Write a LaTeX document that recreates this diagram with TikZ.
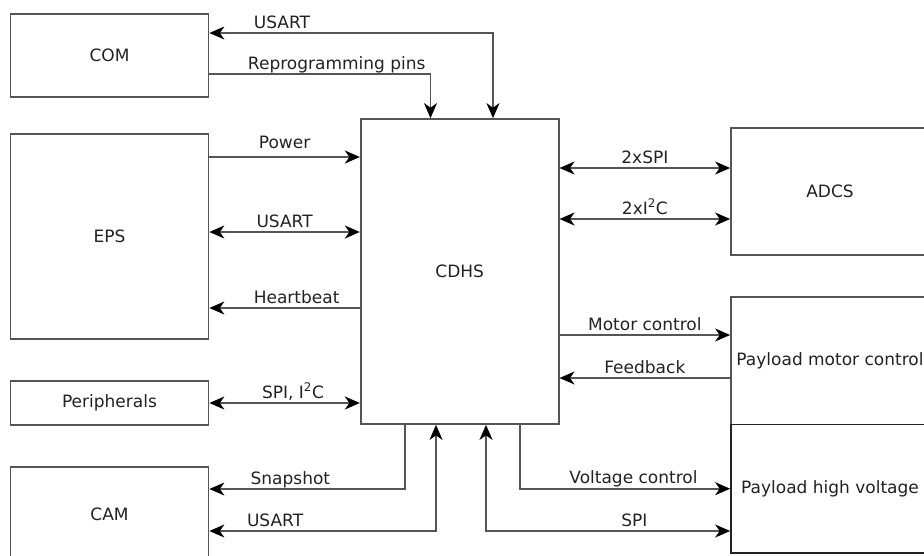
\documentclass[tikz,border=0pt]{standalone}
\usepackage{fontspec}
\setmainfont{DejaVu Sans}
\usetikzlibrary{arrows.meta,calc}
\definecolor{ink}{HTML}{222222}
\definecolor{gris}{HTML}{555555}
\tikzset{
  bloque/.style={draw=gris,line width=1.7pt,fill=white,text=ink,inner sep=0pt,minimum width=198pt,font=\fontsize{17pt}{20pt}\selectfont},
  flecha/.style={-{Stealth[length=15pt,width=13pt,inset=4.5pt,color=black]},line width=1.7pt,draw=gris},
  flechad/.style={{Stealth[length=15pt,width=13pt,inset=4.5pt,color=black]}-{Stealth[length=15pt,width=13pt,inset=4.5pt,color=black]},line width=1.7pt,draw=gris},
  etiqueta/.style={font=\fontsize{17pt}{20pt}\selectfont,text=ink,anchor=base,inner sep=0pt,yshift=5pt},
}
\begin{document}
\begin{tikzpicture}[x=1pt,y=-1pt]
  \clip (0,0) rectangle (924,555);
  % bloques
  \node[bloque,minimum height=83pt] (com) at (109.5,55.5) {COM};
  \node[bloque,minimum height=205pt] (eps) at (109.5,236.5) {EPS};
  \node[bloque,minimum height=44pt] (per) at (109.5,403) {Peripherals};
  \node[bloque,minimum height=94pt] (cam) at (109.5,514) {CAM};
  \node[bloque,minimum height=305pt] (cdhs) at (459.7,271.5) {CDHS};
  \node[bloque,minimum height=127pt] (adcs) at (830,191.5) {ADCS};
  \node[bloque,minimum height=127.5pt] (pmc) at (830,360.7) {Payload motor control};
  \node[bloque,minimum height=128.5pt,draw=ink] (phv) at (830,488.7) {Payload high voltage};
  % COM
  \draw[flechad] ([yshift=22.5pt]com.east) -| ([xshift=33.3pt]cdhs.north)
    node[etiqueta,pos=0.128] {USART};
  \draw[flecha] ([yshift=-18.5pt]com.east) -| ([xshift=-29.2pt]cdhs.north)
    node[etiqueta,pos=0.288] {Reprogramming pins};
  % EPS y perifericos
  \draw[flecha] ([yshift=79.5pt]eps.east) -- ([yshift=79.5pt]eps.east -| cdhs.west)
    node[etiqueta,midway,yshift=4pt] {Power};
  \draw[flechad] ([yshift=4.5pt]eps.east) -- ([yshift=4.5pt]eps.east -| cdhs.west)
    node[etiqueta,midway] {USART};
  \draw[flecha] ([yshift=-71.5pt]eps.east -| cdhs.west) -- ([yshift=-71.5pt]eps.east)
    node[etiqueta,pos=0.42] {Heartbeat};
  \draw[flechad] (per.east) -- (per.east -| cdhs.west)
    node[etiqueta,pos=0.556] {SPI, I\textsuperscript{2}C};
  % CAM
  \draw[flecha] ([xshift=-54.7pt]cdhs.south) |- ([yshift=25pt]cam.east)
    node[etiqueta,pos=0.793] {Snapshot};
  \draw[flechad] ([yshift=-17pt]cam.east) -| ([xshift=-23.7pt]cdhs.south)
    node[etiqueta,pos=0.145] {USART};
  % ADCS
  \draw[flechad] ([yshift=23.5pt]adcs.west -| cdhs.east) -- ([yshift=23.5pt]adcs.west)
    node[etiqueta,midway] {2xSPI};
  \draw[flechad] ([yshift=-27.5pt]adcs.west -| cdhs.east) -- ([yshift=-27.5pt]adcs.west)
    node[etiqueta,midway] {2xI\textsuperscript{2}C};
  % carga util
  \draw[flecha] ([yshift=25.7pt]pmc.west -| cdhs.east) -- ([yshift=25.7pt]pmc.west)
    node[etiqueta,midway] {Motor control};
  \draw[flecha] ([yshift=-17.3pt]pmc.west) -- ([yshift=-17.3pt]pmc.west -| cdhs.east)
    node[etiqueta,midway] {Feedback};
  \draw[flecha] ([xshift=60.3pt]cdhs.south) |- (phv.west)
    node[etiqueta,pos=0.77] {Voltage control};
  \draw[flechad] ([yshift=-42.3pt]phv.west) -| ([xshift=26.3pt]cdhs.south)
    node[etiqueta,pos=0.196] {SPI};
\end{tikzpicture}
\end{document}
